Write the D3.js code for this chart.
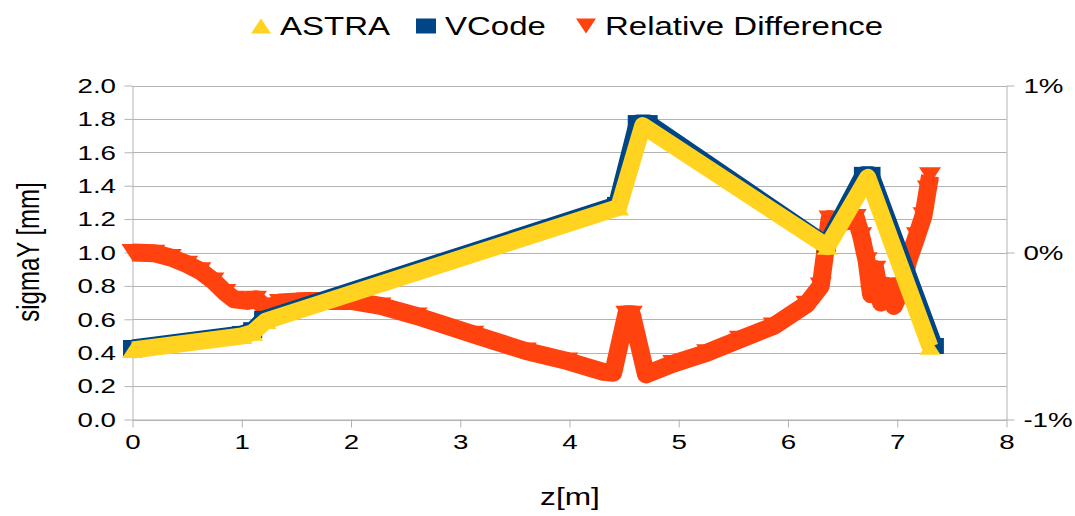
<!DOCTYPE html>
<html>
<head>
<meta charset="utf-8">
<title>sigmaY ASTRA vs VCode</title>
<script src="https://cdn.jsdelivr.net/npm/d3@7"></script>
<style>
  body { margin: 0; background: #fff; }
  text { font-family: "Liberation Sans", Arial, sans-serif; fill: #000; }
</style>
</head>
<body>
<script>
// values
const zAstra     = [0, 1.0, 1.1, 1.22, 4.45, 4.67, 6.36, 6.73, 7.3];
const sigmaAstra = [0.416, 0.50, 0.52, 0.59, 1.27, 1.76, 1.035, 1.45, 0.435];

const zVcode     = [0, 1.0, 1.1, 1.2, 4.43, 4.62, 4.72, 6.35, 6.69, 6.76, 7.34];
const sigmaVcode = [0.428, 0.512, 0.535, 0.602, 1.285, 1.775, 1.775, 1.048, 1.465, 1.465, 0.44];

const zRel    = [0, 0.2, 0.35, 0.5, 0.62, 0.74, 0.85, 0.93, 1.05, 1.13, 1.2, 1.26, 1.35, 1.6, 2.0,
                 2.27, 2.6, 3.12, 3.6, 3.98, 4.31, 4.4, 4.52, 4.57, 4.7, 4.95, 5.26, 5.56, 5.87,
                 6.17, 6.3, 6.38, 6.5, 6.62, 6.67, 6.72, 6.76, 6.8, 6.85, 6.9, 6.97, 7.05, 7.1,
                 7.18, 7.24, 7.28, 7.3];
const relDiff = [0, -0.005, -0.03, -0.07, -0.11, -0.17, -0.24, -0.28, -0.29, -0.28, -0.32, -0.33, -0.30, -0.29, -0.29,
                 -0.32, -0.38, -0.49, -0.59, -0.65, -0.715, -0.72, -0.37, -0.37, -0.73, -0.665, -0.60, -0.52, -0.44,
                 -0.31, -0.2, 0.2, 0.18, 0.21, 0.1, -0.05, -0.25, -0.1, -0.3, -0.2, -0.32, -0.2, -0.05,
                 0.1, 0.22, 0.38, 0.46];

const seriesNames = ["ASTRA", "VCode", "Relative Difference"];
const xTicks = [0, 1, 2, 3, 4, 5, 6, 7, 8];
const leftTicks = [0, 0.2, 0.4, 0.6, 0.8, 1.0, 1.2, 1.4, 1.6, 1.8, 2.0];
const rightTicks = [-1, 0, 1];

const width = 1075, height = 516;
const stretch = 1.32;   // text in the picture is wider than it is tall
const yellow = "#ffd320", blue = "#004586", orange = "#ff420e", grid = "#b3b3b3";

const svg = d3.select("body").append("svg")
    .attr("width", width)
    .attr("height", height);

const x = d3.scaleLinear().domain([0, 8]).range([132.5, 1006.5]);
const y = d3.scaleLinear().domain([0, 2]).range([419.5, 85.5]);
const y2 = d3.scaleLinear().domain([-1, 1]).range([419.5, 85.5]);

// horizontal grid
svg.append("g").selectAll("line")
    .data(leftTicks)
    .join("line")
    .attr("x1", x(0)).attr("x2", x(8))
    .attr("y1", d => Math.round(y(d)) + 0.5).attr("y2", d => Math.round(y(d)) + 0.5)
    .attr("stroke", grid);

let styleAxis = function(g){
    g.selectAll("path.domain").attr("stroke", grid);
    g.selectAll(".tick line").attr("stroke", grid);
    g.selectAll(".tick text")
        .attr("fill", "#000")
        .style("font-size", "21px")
        .style("font-family", '"Liberation Sans", Arial, sans-serif')
        .attr("transform", `scale(${stretch},1)`);
};

svg.append("g")
    .attr("transform", `translate(${x(0)},0)`)
    .call(d3.axisLeft(y).tickValues(leftTicks).tickFormat(d3.format(".1f"))
        .tickSizeInner(8).tickSizeOuter(0).tickPadding(4.5))
    .call(styleAxis);

svg.append("g")
    .attr("transform", `translate(${x(8)},0)`)
    .call(d3.axisRight(y2).tickValues(rightTicks).tickFormat(d => d + "%")
        .tickSizeInner(8).tickSizeOuter(0).tickPadding(4.8))
    .call(styleAxis);

svg.append("g")
    .attr("transform", `translate(0,${y(0)})`)
    .call(d3.axisBottom(x).tickValues(xTicks).tickFormat(d3.format("d"))
        .tickSizeInner(8).tickSizeOuter(0).tickPadding(7))
    .call(styleAxis);

// marker shapes, wider than tall like in the picture
const triUp = "M0,-8L10.5,8L-10.5,8Z";
const triDown = "M0,8.5L11,-8.5L-11,-8.5Z";
const square = "M-9.5,-8L9.5,-8L9.5,8L-9.5,8Z";
const legendTriUp = "M0,-7.5L10,7.5L-10,7.5Z";
const legendTriDown = "M0,7.5L10,-7.5L-10,-7.5Z";
const legendSquare = "M-10,-7.5L10,-7.5L10,7.5L-10,7.5Z";

let drawSeries = function(zs, vs, yScale, color, marker, w){
    const pts = zs.map((z, i) => [x(z), yScale(vs[i])]);
    svg.append("path")
        .attr("d", d3.line()(pts))
        .attr("fill", "none")
        .attr("stroke", color)
        .attr("stroke-width", w)
        .attr("stroke-linejoin", "round");
    svg.append("g").selectAll("path")
        .data(pts)
        .join("path")
        .attr("d", marker)
        .attr("transform", d => `translate(${d[0]},${d[1]})`)
        .attr("fill", color);
};

drawSeries(zRel, relDiff, y2, orange, triDown, 18);
drawSeries(zVcode, sigmaVcode, y, blue, square, 17);
drawSeries(zAstra, sigmaAstra, y, yellow, triUp, 17);

// axis titles
svg.append("text")
    .attr("transform", `translate(${570},505) scale(${stretch},1)`)
    .attr("text-anchor", "middle")
    .style("font-size", "24px")
    .text("z[m]");

svg.append("text")
    .attr("transform", `translate(39,252) scale(${stretch},1) rotate(-90)`)
    .attr("text-anchor", "middle")
    .style("font-size", "24px")
    .text("sigmaY [mm]");

// legend
const legendItems = [
    {name: seriesNames[0], color: yellow, marker: legendTriUp, mx: 261, tx: 280},
    {name: seriesNames[1], color: blue, marker: legendSquare, mx: 426, tx: 445},
    {name: seriesNames[2], color: orange, marker: legendTriDown, mx: 586, tx: 605}
];
const legend = svg.append("g");
legend.selectAll("path")
    .data(legendItems)
    .join("path")
    .attr("d", d => d.marker)
    .attr("transform", d => `translate(${d.mx},26)`)
    .attr("fill", d => d.color);
legend.selectAll("text")
    .data(legendItems)
    .join("text")
    .attr("transform", d => `translate(${d.tx},35) scale(${stretch},1)`)
    .style("font-size", "25px")
    .text(d => d.name);
</script>
</body>
</html>
